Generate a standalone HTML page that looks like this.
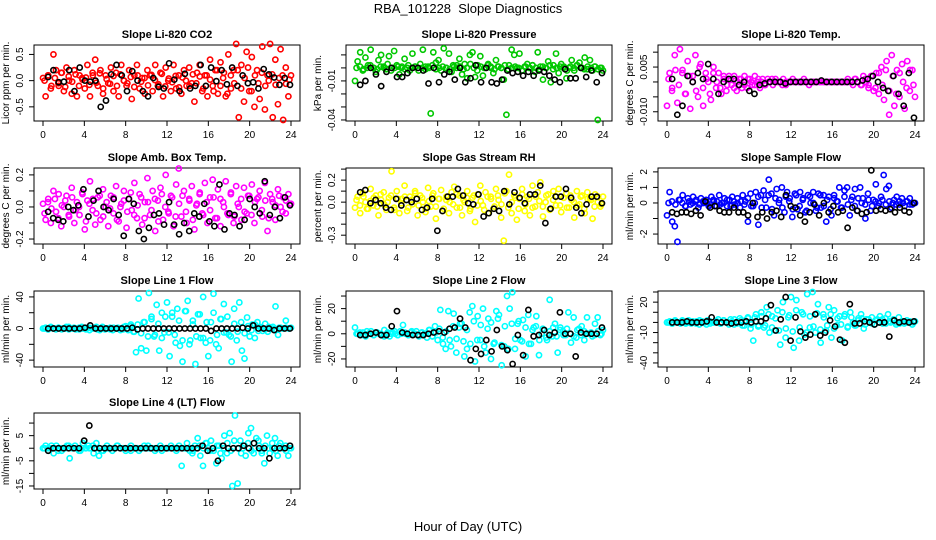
<!DOCTYPE html>
<html><head><meta charset="utf-8">
<style>
html,body{margin:0;padding:0;background:#fff;}
svg{display:block;font-family:"Liberation Sans",sans-serif;}
</style></head>
<body>
<svg id="chart" width="936" height="540" viewBox="0 0 936 540" xmlns="http://www.w3.org/2000/svg">
<text x="468" y="13" text-anchor="middle" font-size="13" style="white-space:pre">RBA_101228  Slope Diagnostics</text>
<text x="468" y="531" text-anchor="middle" font-size="13">Hour of Day (UTC)</text>
</svg>
<script>
const xTicks = [0,4,8,12,16,20,24];
const c1 = [0.05,-0.3,0.1,-0.15,0.5,0.2,-0.1,0.15,-0.2,0.25,0.0,-0.25,0.2,-0.3,0.1,0.05,-0.15,0.3,-0.3,0.15,0.4,-0.1,0.2,-0.25,0.1,-0.05,0.25,-0.2,0.15,-0.3,0.3,0.0,-0.1,0.2,-0.35,0.1,0.3,-0.15,0.05,-0.25,0.2,0.1,-0.2,0.3,-0.1,0.15,-0.3,0.25,0.0,-0.2,0.3,-0.15,0.1,-0.25,0.2,-0.1,0.25,-0.05,-0.4,0.15,0.3,-0.2,0.1,-0.3,0.4,-0.1,0.2,-0.25,0.35,0.05,-0.3,0.5,-0.15,0.2,0.7,-0.7,0.3,-0.4,0.55,-0.2,0.45,-0.5,0.2,-0.35,0.65,-0.55,0.1,0.7,-0.7,0.4,-0.45,0.6,-0.75,0.25,-0.3,0.1];
const d1 = [0.0,0.1,-0.1,0.05,-0.05,0.15,-0.12,0.08,-0.02,0.12,-0.1,0.02,0.06,-0.08,0.1,-0.04,0.14,-0.15,0.03,-0.06,0.09,-0.1,0.12,0.0,-0.05,0.07,-0.12,0.1,-0.02,0.05,-0.09,0.11,0.01,-0.07,0.13,-0.11,0.04,-0.03,0.09,-0.13,0.06,0.0,-0.1,0.12,-0.05,0.08,-0.15,0.1,0.02,-0.2,0.2,-0.1,0.15,-0.25,0.1,-0.05,0.2,-0.15,0.05,0.25,-0.2,0.1,-0.05,0.15,-0.1,0.0,0.12,-0.08,0.05,0.1,-0.06,0.02];
const k1 = [0.07,0.2,-0.03,-0.02,0.2,-0.2,0.25,0.0,-0.02,0.0,-0.5,-0.38,0.12,0.3,0.1,-0.2,0.18,0.0,-0.2,-0.3,0.05,-0.12,-0.15,0.33,0.02,-0.2,0.13,-0.15,-0.1,0.3,-0.1,0.25,-0.01,0.2,-0.07,0.25,-0.1,0.1,-0.05,-0.03,-0.15,0.22,0.12,0.06,-0.08,0.05,-0.08];
const c2 = [-0.01,0.005,0.012,-0.002,0.008,0.002,0.014,0.0,-0.003,0.006,0.01,0.001,-0.001,0.009,0.0,0.013,0.002,-0.005,0.001,0.007,0.0,-0.002,0.011,0.001,0.0,0.003,0.014,-0.001,0.001,-0.035,0.012,0.004,0.006,-0.002,0.015,0.0,0.011,-0.003,0.001,0.002,0.007,-0.005,0.003,-0.008,0.01,0.012,-0.007,0.002,0.009,-0.006,0.0,0.003,0.001,-0.004,0.006,0.001,0.0,-0.009,-0.036,0.002,0.014,0.01,0.0,0.011,-0.002,0.001,0.003,0.0,0.002,-0.003,0.012,0.001,-0.009,0.0,0.005,-0.011,0.002,0.011,-0.004,0.003,0.001,-0.008,0.0,0.006,-0.002,0.002,0.004,0.0,0.008,-0.001,0.006,-0.002,0.001,-0.04,0.0,-0.002];
const d2 = [0.0,0.001,-0.001,0.0,0.002,0.0,-0.001,0.001,0.0,0.003,-0.002,0.0,0.001,0.0,-0.001,0.002,0.0,0.001,-0.002,0.0,0.001,0.0,0.002,-0.001,0.0,0.001,0.0,-0.001,0.002,0.0,0.001,-0.001,0.0,0.003,0.0,-0.002,0.001,0.0,0.002,0.0,-0.001,0.001,0.0,0.002,-0.001,0.0,0.001,0.0,-0.002,0.001,0.0,0.002,0.0,-0.001,0.001,0.0,0.002,-0.001,0.0,0.001,0.0,-0.002,0.001,0.0,0.002,0.0,-0.001,0.001,0.0,0.001,-0.001,0.0];
const k2 = [-0.013,-0.01,0.0,-0.005,-0.014,-0.003,0.0,-0.007,-0.007,-0.004,0.0,0.0,-0.002,-0.012,0.0,-0.011,-0.005,-0.003,-0.009,0.0,-0.011,-0.008,0.002,-0.011,0.0,-0.011,-0.012,-0.009,-0.002,-0.004,-0.003,-0.006,-0.003,-0.006,-0.002,-0.003,-0.006,-0.009,-0.011,-0.001,-0.008,-0.008,0.0,-0.007,-0.002,-0.011,-0.004];
const c3 = [-0.008,0.003,-0.002,0.009,-0.007,0.011,0.004,-0.004,0.007,-0.009,0.002,0.009,-0.005,0.006,-0.008,0.003,0.0,-0.006,0.005,-0.002,0.003,-0.004,0.001,-0.003,0.002,-0.001,0.002,-0.003,0.001,-0.002,0.002,-0.002,0.001,-0.001,0.002,0.0,-0.002,0.001,-0.001,0.001,0.0,-0.001,0.001,0.0,0.0,0.001,-0.001,0.0,0.0,0.0,0.0,0.0,0.0,0.001,0.0,-0.001,0.0,0.0,0.0,0.0,0.0,0.0,0.0,0.0,0.0,0.0,0.0,0.0,0.0,0.0,0.001,0.0,-0.001,0.001,0.0,-0.001,0.002,0.0,-0.002,0.002,-0.003,0.003,-0.004,0.005,-0.006,0.007,-0.011,0.009,-0.008,0.004,-0.005,0.006,-0.009,0.007,-0.003,0.004,-0.005];
const d3 = [0.001,-0.003,0.004,-0.001,0.003,-0.004,0.002,0.0,-0.003,0.005,-0.002,0.001,-0.004,0.003,0.0,-0.002,0.002,-0.001,0.001,-0.002,0.0,0.001,-0.001,0.001,0.0,-0.001,0.001,0.0,-0.001,0.0,0.001,0.0,0.0,-0.001,0.0,0.0,0.001,0.0,0.0,0.0,0.0,0.0,0.0,0.0,0.0,0.0,0.0,0.0,0.0,0.0,0.0,0.0,0.0,0.0,0.001,0.0,-0.001,0.001,-0.001,0.002,-0.002,0.003,-0.001,0.004,-0.003,0.002,-0.004,0.003,0.0,-0.002,0.004,-0.001];
const k3 = [0.001,-0.011,-0.008,0.002,0.0,0.003,0.001,0.006,0.001,-0.004,0.0,0.001,0.001,-0.001,0.0,-0.003,-0.004,-0.001,-0.0005,0.0,0.0,0.0,-0.0005,0.0,0.0,0.0,0.0,0.0,0.0,0.0005,0.0,0.0,0.0,0.0,0.0,0.0,0.0,0.0005,0.001,0.002,0.0,-0.002,-0.003,0.002,-0.004,-0.008,0.003,-0.012];
const c4 = [0.02,-0.08,0.05,-0.1,0.1,-0.03,0.08,-0.12,0.0,0.07,-0.06,0.12,-0.1,0.03,-0.05,0.09,-0.14,0.04,0.16,-0.02,-0.11,0.06,-0.08,0.11,0.0,-0.12,0.07,-0.04,0.13,-0.09,0.02,0.1,-0.13,0.05,-0.02,0.15,-0.07,0.08,-0.11,0.03,0.18,-0.05,0.1,-0.15,0.04,0.12,-0.08,0.2,-0.03,0.07,-0.12,0.14,0.24,-0.06,0.1,-0.1,0.05,0.13,-0.14,0.02,0.08,-0.04,0.15,-0.1,0.06,0.17,-0.07,0.11,-0.12,0.03,0.16,-0.05,0.09,-0.1,0.13,0.0,-0.08,0.12,-0.04,0.07,0.14,-0.1,0.05,0.1,-0.06,0.15,-0.15,0.08,0.03,-0.08,0.11,0.0,0.06,-0.04,0.08,0.02];
const d4 = [-0.04,0.03,-0.01,0.05,-0.07,0.01,0.04,-0.05,0.06,-0.02,0.0,0.08,-0.09,0.02,0.05,-0.04,0.07,-0.06,0.03,-0.01,0.06,-0.08,0.0,0.04,-0.03,0.09,-0.05,0.01,0.06,-0.07,0.03,-0.02,0.05,-0.09,0.08,0.0,-0.04,0.06,-0.06,0.02,0.07,-0.03,0.04,-0.08,0.01,0.09,-0.05,0.03,-0.02,0.06,-0.07,0.05,0.0,-0.04,0.08,-0.06,0.02,0.05,-0.03,0.07,-0.05,0.03,0.06,-0.02,0.04,-0.07,0.05,0.01,0.07,-0.03,0.04,0.02];
const k4 = [-0.03,-0.07,-0.08,-0.09,0.0,-0.02,0.01,0.11,-0.06,0.04,0.1,0.0,-0.02,0.05,-0.05,-0.18,0.05,0.02,-0.15,-0.2,-0.13,-0.05,-0.04,-0.11,0.03,-0.11,-0.17,-0.1,-0.15,-0.04,-0.06,0.02,-0.09,-0.12,0.14,-0.14,-0.04,-0.05,-0.12,-0.08,0.05,0.0,-0.04,0.16,-0.05,0.0,-0.07,0.06,0.01];
const c5 = [-0.05,0.05,-0.1,0.08,0.0,-0.06,0.12,-0.03,0.06,-0.12,0.02,0.09,-0.07,0.04,0.28,-0.05,0.1,-0.1,0.03,0.15,-0.08,0.05,-0.02,0.1,-0.12,0.06,0.0,-0.09,0.13,-0.04,0.08,-0.15,0.03,0.11,-0.06,0.02,-0.1,0.09,0.14,-0.05,0.06,-0.12,0.0,0.1,-0.08,0.04,-0.18,0.07,0.15,-0.03,0.09,-0.1,0.05,-0.06,0.12,0.02,-0.14,-0.35,0.1,0.25,-0.1,0.06,-0.16,0.03,0.12,-0.08,0.05,-0.12,0.15,-0.04,0.09,0.18,-0.13,0.0,0.07,-0.06,0.1,-0.03,0.12,-0.09,0.04,0.08,-0.05,0.02,-0.14,0.1,-0.02,0.06,-0.1,0.09,0.03,-0.15,0.07,0.0,-0.04,0.05];
const d5 = [0.02,-0.03,0.05,-0.06,0.01,0.04,-0.04,0.07,-0.02,0.0,0.06,-0.07,0.03,-0.01,0.05,-0.05,0.02,0.08,-0.03,0.04,-0.06,0.01,0.06,-0.04,0.03,-0.08,0.05,0.0,-0.02,0.07,-0.05,0.02,0.04,-0.06,0.06,-0.03,0.01,-0.07,0.05,0.03,-0.04,0.06,-0.02,0.08,-0.05,0.0,0.04,-0.06,0.07,-0.02,0.03,-0.05,0.05,0.01,-0.04,0.06,-0.07,0.02,0.05,-0.03,0.04,-0.05,0.06,0.0,-0.03,0.05,-0.06,0.03,0.02,-0.04,0.05,-0.02];
const k5 = [0.09,0.11,-0.01,0.02,-0.01,-0.05,-0.07,0.03,-0.03,0.02,0.0,0.03,-0.07,-0.05,0.03,-0.26,-0.08,0.05,0.05,0.12,0.06,-0.01,-0.02,0.07,-0.13,-0.1,-0.06,-0.08,0.1,-0.02,0.09,0.04,-0.01,0.07,0.07,0.15,-0.19,-0.06,0.05,0.05,0.12,0.04,-0.05,-0.1,-0.02,0.05,0.05,-0.01];
const c6 = [-0.8,0.7,-1.2,-1.5,-2.5,0.2,0.5,-0.2,0.3,-0.1,0.4,0.1,-0.3,0.3,0.0,0.2,-0.2,0.4,0.1,-0.2,0.5,0.0,0.3,-0.2,0.2,0.4,-0.1,0.3,-0.3,0.5,0.1,-1.2,0.6,-0.2,0.7,-1.4,0.5,0.8,-0.3,1.5,0.6,-0.8,0.9,0.2,1.0,-0.6,0.7,0.3,-0.9,0.6,-0.4,0.7,0.2,-0.6,0.5,0.0,0.7,-0.5,0.6,-0.3,0.5,-1.2,0.4,-0.8,0.5,0.1,1.0,-0.3,0.8,1.0,-0.8,0.4,0.9,-0.5,1.0,0.3,-1.0,0.6,-0.5,0.2,1.2,-0.2,0.4,1.8,0.9,1.1,-0.3,0.2,0.4,-0.1,0.3,-0.2,0.1,0.3,-0.1,0.0];
const d6 = [0.0,0.1,-0.1,0.2,0.0,-0.2,0.1,0.0,0.2,-0.1,0.1,0.0,-0.1,0.2,0.1,-0.1,0.0,0.2,-0.2,0.1,0.0,0.1,-0.1,0.3,-0.2,0.0,0.4,-0.3,0.2,0.5,-0.4,0.3,0.0,-0.3,0.4,0.1,-0.4,0.5,-0.2,0.3,-0.5,0.4,0.0,-0.3,0.5,-0.2,0.2,-0.4,0.3,0.1,-0.3,0.4,-0.1,0.2,-0.2,0.3,0.0,-0.1,0.2,-0.2,0.1,0.0,0.2,-0.1,0.1,0.0,-0.1,0.1,0.0,0.1,-0.1,0.0];
const k6 = [-0.6,-0.7,-0.6,-0.6,-0.7,-0.5,-0.8,0.1,-0.3,-0.2,-0.5,-0.6,-0.6,-0.3,-0.6,-0.6,-0.8,0.0,-0.9,-0.6,-1.0,-0.6,-0.5,-0.9,0.5,-0.2,-0.3,-0.8,-1.2,-0.6,-0.1,-0.8,0.0,-0.6,-0.2,-0.6,-0.5,-1.6,-0.3,-0.5,-0.7,-0.6,2.1,-0.5,-0.4,-0.5,-0.4,-0.6,-0.3,-0.5,-0.6,0.0];
const c7 = [0,1,-1,2,0,-1,1,0,0,2,-1,0,1,0,-1,2,0,1,-2,0,1,-1,0,2,-1,0,1,-2,0,1,0,-1,3,-2,5,-4,-30,38,-25,8,-28,45,15,-10,30,-28,20,-5,33,-35,15,-8,25,-22,-42,22,35,-15,10,-45,18,-12,40,-18,-35,8,44,-20,-25,12,31,-5,-8,-42,25,-15,33,-28,-38,14,-10,5,-12,8,2,-3,6,-4,0,2,28,-8,1,0,10,0,1];
const d7 = [0,-1,1,0,1,-1,0,2,0,-1,1,0,-1,1,0,2,-2,1,0,-1,1,0,-2,2,0,3,-4,5,-6,8,-10,12,-8,6,-12,15,-5,20,-18,10,-15,22,-20,5,-10,18,-12,8,-15,20,-8,12,-5,15,-10,6,-4,8,-6,3,-2,5,-3,1,-1,2,0,-1,1,0,1,0];
const k7 = [0,0,0,0,0,0,0,1,4,0,0,0,0,0,0,0,1,-1,0,0,0,0,0,0,0,0,0,0,0,0,0,-3,0,0,0,0,0,1,0,4,0,0,0,-2,0,0,0];
const c8 = [5,0,-1,1,-2,0,2,-1,1,0,-1,3,0,-2,1,0,-1,2,7,0,-1,1,0,2,-2,1,0,-3,3,-2,6,-5,19,-8,-12,18,-10,16,-15,5,8,-18,-12,17,22,-22,14,-5,20,-15,12,-20,-8,18,15,-25,-10,30,20,33,-12,8,-5,11,-18,15,-8,5,14,-17,0,3,-5,27,-2,8,-15,5,2,-1,17,-7,13,-3,4,6,-5,13,0,-2,8,13,-1,3];
const d8 = [0,1,-1,2,0,-1,1,0,-2,1,0,2,-1,0,1,-1,2,0,-1,1,0,3,-2,1,4,-3,2,-5,6,-4,8,-6,3,-8,10,-5,7,-10,4,9,-7,12,-9,6,-12,8,-4,10,-6,5,-8,3,6,-5,4,-3,2,5,-2,3,-1,4,0,-2,3,-1,2,0,1,-1,2,0];
const k8 = [-1,-1,0,1,-1,-1,6,18,1,0,-1,-1,-1,0,1,2,1,4,5,12,5,-21,-12,-16,-5,-14,3,-10,-13,-24,-1,-17,19,-2,-1,3,-1,1,17,0,0,-18,1,0,0,0,5];
const c9 = [0,1,-1,2,0,-1,1,0,2,-1,0,1,-2,1,0,2,-1,0,1,3,-1,2,0,-2,1,3,-1,4,-3,2,5,-6,-18,8,-3,10,-5,15,-10,6,-8,12,-22,20,-15,5,25,-25,22,-18,10,-12,28,-5,30,-10,18,-20,8,-8,15,-15,12,-3,6,-18,8,-5,10,0,-3,4,8,-6,3,0,5,-2,3,6,-1,4,8,0,3,-2,5,1,-1,2,0,-2,1];
const d9 = [0,-1,1,0,2,-1,0,1,-1,2,0,-2,1,0,1,-1,2,0,3,-2,1,2,-3,4,-2,5,-4,6,-3,8,-5,4,-8,10,-6,7,-9,12,-5,8,-10,6,-4,9,-7,5,-3,8,-6,4,-2,6,-4,5,-3,2,4,-2,3,-1,2,0,3,-1,1,2,0,-1,1,0,1,0];
const k9 = [0,0,0,1,0,0,0,1,5,0,0,0,-1,0,0,1,0,1,1,4,17,-8,3,25,-18,5,-9,-15,-12,8,-13,-10,2,-4,-17,-20,18,-1,-1,1,0,-2,0,0,-14,2,0,1,0,1];
const c10 = [0,1,-1,0,-2,1,0,-1,0,1,-4,0,1,0,-1,2,0,1,0,-2,2,-3,-1,0,1,0,-1,0,1,0,0,-1,0,1,0,0,-1,0,1,0,0,0,-1,0,1,0,0,0,1,0,-1,0,-7,0,2,-1,-2,1,4,-3,-7,2,0,3,-1,-6,1,-4,5,-2,6,-15,13,-14,3,0,-3,6,8,-2,4,1,-1,-6,5,-2,0,4,-3,2,0,1,-3,0];
const d10 = [0,0,1,0,-1,0,0,1,0,0,-1,0,0,0,1,0,0,-1,0,0,0,1,0,0,0,-1,0,0,0,0,1,0,0,0,-1,0,0,0,0,1,0,0,0,-1,0,1,0,2,-1,0,1,-2,0,2,-1,3,0,-2,1,2,-1,0,3,-2,1,0,2,-1,1,0,-1,0];
const k10 = [-1,0,0,0,0,0,0,3,9,0,0,0,0,0,0,0,0,0,0,0,0,0,0,0,0,0,0,0,0,0,1,-1,0,-5,1,0,0,0,1,0,2,0,0,-4,0,0,0,1];

const titles = ["Slope Li-820 CO2","Slope Li-820 Pressure","Slope Li-820 Temp.","Slope Amb. Box Temp.","Slope Gas Stream RH","Slope Sample Flow","Slope Line 1 Flow","Slope Line 2 Flow","Slope Line 3 Flow","Slope Line 4 (LT) Flow"];
const yTitles = ["Licor ppm per min.","kPa per min.","degrees C per min.","degrees C per min.","percent per min.","ml/min per min.","ml/min per min.","ml/min per min.","ml/min per min.","ml/min per min."];
const yTickVals = [[-0.5,0,0.5],[-0.04,-0.03,-0.02,-0.01,0,0.01],[-0.01,-0.005,0,0.005,0.01],[-0.2,-0.1,0,0.1,0.2],[-0.3,-0.2,-0.1,0,0.1,0.2,0.3],[-2,-1,0,1,2],[-40,-20,0,20,40],[-20,-10,0,10,20,30],[-40,-30,-20,-10,0,10,20,30],[-15,-10,-5,0,5,10]];
const yTickLabels = [["-0.5","0.0","0.5"],["-0.04","","","-0.01","",""],["-0.010","","","0.005",""],["-0.2","","0.0","","0.2"],["-0.3","","","0.0","","0.2",""],["-2","","0","1","2"],["-40","","0","","40"],["-20","","0","","20",""],["-40","","","-10","","","20",""],["-15","","-5","","5",""]];
const yRanges = [[-0.77,0.68],[-0.0408,0.0176],[-0.0131,0.0124],[-0.231,0.243],[-0.38,0.31],[-2.64,2.25],[-48.7,47.5],[-26.4,34],[-44,31],[-16.2,14]];
const colorVals = [c1,c2,c3,c4,c5,c6,c7,c8,c9,c10];
const colorVals2 = [d1,d2,d3,d4,d5,d6,d7,d8,d9,d10];
const blackVals = [k1,k2,k3,k4,k5,k6,k7,k8,k9,k10];
const seriesColors = ["#ff0000","#00c800","#ff00ff","#ff00ff","#ffff00","#0000ff","#00ffff","#00ffff","#00ffff","#00ffff"];

const NS = "http://www.w3.org/2000/svg";
const svg = document.getElementById("chart");
const colLeft = [34,346,658], rowTop = [45,168,291,413], boxW = 266, boxH = 76;
function mk(tag, attrs, parent){ const e=document.createElementNS(NS,tag); for(const k in attrs) e.setAttribute(k,attrs[k]); parent.appendChild(e); return e; }

for(let p=0;p<10;p++){
  const L = colLeft[p%3], T = rowTop[Math.floor(p/3)];
  const g = mk("g",{},svg);
  
  
  const xs = h => L + 9 + (h/24)*(boxW-18);
  const [y0,y1] = yRanges[p];
  const ys = v => T + boxH - (v - y0)/(y1 - y0)*boxH;
  const title = mk("text",{x:L+boxW/2,y:T-7,"text-anchor":"middle","font-size":"11","font-weight":"bold"},g);
  title.textContent = titles[p];
  
  
  const box = mk("rect",{x:L,y:T,width:boxW,height:boxH,fill:"none",stroke:"#000","stroke-width":"1"},g);
  
  
  xTicks.forEach(t=>{
    const x = xs(t);
    mk("line",{x1:x,x2:x,y1:T+boxH,y2:T+boxH+5,stroke:"#000"},g);
    const tl = mk("text",{x:x,y:T+boxH+17,"text-anchor":"middle","font-size":"10"},g);
    tl.textContent = t;
    
    
  });
  yTickVals[p].forEach((v,i)=>{
    const y = ys(v);
    mk("line",{x1:L,x2:L-5,y1:y,y2:y,stroke:"#000"},g);
    const lab = yTickLabels[p][i];
    if(lab){
      const tl = mk("text",{x:L-11,y:y,"text-anchor":"middle","font-size":"10",transform:`rotate(-90 ${L-11} ${y})`},g);
      tl.textContent = lab;
      
      
    }
  });
  const yt = mk("text",{x:L-25,y:T+boxH/2,"text-anchor":"middle","font-size":"10",transform:`rotate(-90 ${L-25} ${T+boxH/2})`},g);
  yt.textContent = yTitles[p];
  
  
  const cv = colorVals[p];
  cv.forEach((v,i)=>{
    const c = mk("circle",{cx:xs(i*24/(cv.length-1)),cy:ys(v),r:2.6,fill:"none",stroke:seriesColors[p],"stroke-width":"1.6"},g);
    
    
  });
  const dv = colorVals2[p];
  dv.forEach((v,i)=>{
    const c = mk("circle",{cx:xs(0.15 + i*23.7/(dv.length-1)),cy:ys(v),r:2.6,fill:"none",stroke:seriesColors[p],"stroke-width":"1.6"},g);
    
    
  });
  const bv = blackVals[p];
  bv.forEach((v,i)=>{
    const c = mk("circle",{cx:xs(0.5 + i*23.4/(bv.length-1)),cy:ys(v),r:2.6,fill:"none",stroke:"#000","stroke-width":"1.6"},g);
    
    
  });
}
</script>
</body></html>
